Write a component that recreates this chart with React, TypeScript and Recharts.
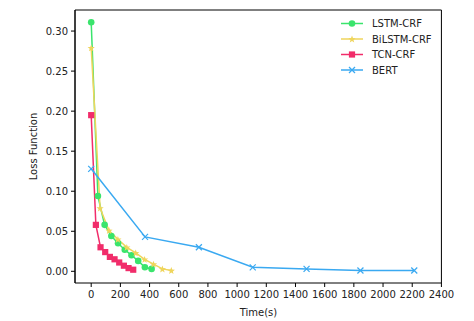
import React from "react"
import {
  LineChart,
  Line,
  XAxis,
  YAxis,
  ReferenceArea,
} from "recharts"

// training time (s) and loss per model
const lstmTime = [0, 46, 92, 138, 184, 230, 276, 322, 368, 414]
const lstmLoss = [0.311, 0.094, 0.058, 0.044, 0.035, 0.027, 0.02, 0.013, 0.005, 0.003]

const bilstmTime = [0, 61, 122, 183, 244, 305, 366, 427, 488, 549]
const bilstmLoss = [0.279, 0.079, 0.051, 0.04, 0.03, 0.023, 0.015, 0.009, 0.003, 0.001]

const tcnTime = [0, 32, 64, 96, 128, 160, 192, 224, 256, 288]
const tcnLoss = [0.195, 0.058, 0.03, 0.024, 0.018, 0.015, 0.011, 0.007, 0.004, 0.002]

const bertTime = [0, 369, 738, 1107, 1476, 1845, 2214]
const bertLoss = [0.128, 0.043, 0.03, 0.005, 0.003, 0.001, 0.001]

const xTicks = [0, 200, 400, 600, 800, 1000, 1200, 1400, 1600, 1800, 2000, 2200, 2400]
const yTicks = [0, 0.05, 0.1, 0.15, 0.2, 0.25, 0.3]

// axis box spans X_FRAME; the scale runs a bit further so the 2400 tick is kept
const X_FRAME: [number, number] = [-111, 2400]
const X_DOMAIN: [number, number] = [-111, 2500]
const Y_DOMAIN: [number, number] = [-0.0146, 0.3263]

const FONT = "DejaVu Sans, sans-serif"

type Shape = "circle" | "star" | "square" | "x"

const toPoints = (t: number[], l: number[]) => t.map((time, i) => ({ time, loss: l[i] }))

const series = [
  { name: "LSTM-CRF", color: "#3ae46c", shape: "circle" as Shape, data: toPoints(lstmTime, lstmLoss) },
  { name: "BiLSTM-CRF", color: "#efd55c", shape: "star" as Shape, data: toPoints(bilstmTime, bilstmLoss) },
  { name: "TCN-CRF", color: "#f12c6a", shape: "square" as Shape, data: toPoints(tcnTime, tcnLoss) },
  { name: "BERT", color: "#3aa9f1", shape: "x" as Shape, data: toPoints(bertTime, bertLoss) },
]

const starPath = (cx: number, cy: number, R: number, r: number) => {
  let d = ""
  for (let i = 0; i < 10; i++) {
    const rad = i % 2 === 0 ? R : r
    const a = -Math.PI / 2 + (i * Math.PI) / 5
    d += (i === 0 ? "M" : "L") + (cx + rad * Math.cos(a)).toFixed(2) + "," + (cy + rad * Math.sin(a)).toFixed(2)
  }
  return d + "Z"
}

const Marker = ({ cx, cy, shape, color }: { cx: number; cy: number; shape: Shape; color: string }) => {
  if (shape === "circle") return <circle cx={cx} cy={cy} r={3.3} fill={color} />
  if (shape === "square") return <rect x={cx - 3.1} y={cy - 3.1} width={6.2} height={6.2} fill={color} />
  if (shape === "star") return <path d={starPath(cx, cy + 0.4, 3.8, 1.6)} fill={color} />
  return (
    <g stroke={color} strokeWidth={1.2}>
      <line x1={cx - 3} y1={cy - 3} x2={cx + 3} y2={cy + 3} />
      <line x1={cx - 3} y1={cy + 3} x2={cx + 3} y2={cy - 3} />
    </g>
  )
}

const makeDot = (shape: Shape, color: string) => (props: any) => {
  const { cx, cy, index } = props
  if (cx == null || cy == null) return <g key={index} />
  return <Marker key={index} cx={cx} cy={cy} shape={shape} color={color} />
}

// legend drawn as an overlay so it takes no room from the plot
const LegendBox = () => (
  <svg width={120} height={70} style={{ position: "absolute", left: 335, top: 14, overflow: "visible" }}>
    {series.map((s, i) => {
      const y = 9.5 + i * 15.5
      return (
        <g key={s.name}>
          <line x1={6} x2={28} y1={y} y2={y} stroke={s.color} strokeWidth={1.5} />
          <Marker cx={17} cy={y} shape={s.shape} color={s.color} />
          <text x={37} y={y} dy="0.35em" fontSize={10} fontFamily={FONT} fill="#222">
            {s.name}
          </text>
        </g>
      )
    })}
  </svg>
)

export default function App() {
  return (
    <div style={{ position: "absolute", left: 0, top: 0, width: 474, height: 321, background: "#fff" }}>
      <LineChart width={474} height={321} margin={{ top: 10, right: 18, bottom: 0, left: 0 }}>
        <XAxis
          dataKey="time"
          type="number"
          domain={X_DOMAIN}
          ticks={xTicks}
          interval={0}
          allowDataOverflow
          axisLine={false}
          height={38}
          tickSize={4}
          tickMargin={4}
          tickLine={{ stroke: "#000" }}
          tick={{ fill: "#222", fontSize: 10, fontFamily: FONT }}
          label={{ value: "Time(s)", position: "insideBottom", offset: 5, dx: -7, fill: "#222", fontSize: 10, fontFamily: FONT }}
        />
        <YAxis
          type="number"
          domain={Y_DOMAIN}
          ticks={yTicks}
          interval={0}
          allowDataOverflow
          width={75}
          tickSize={4}
          tickMargin={3}
          stroke="#000"
          tickFormatter={(v: number) => v.toFixed(2)}
          tick={{ fill: "#222", fontSize: 10, fontFamily: FONT }}
          label={{ value: "Loss Function", angle: -90, position: "center", dx: -4, fill: "#222", fontSize: 10, fontFamily: FONT }}
        />
        <ReferenceArea
          x1={X_FRAME[0]}
          x2={X_FRAME[1]}
          y1={Y_DOMAIN[0]}
          y2={Y_DOMAIN[1]}
          fill="none"
          stroke="#000"
          strokeWidth={1}
          ifOverflow="visible"
        />
        {series.map((s) => (
          <Line
            key={s.name}
            data={s.data}
            dataKey="loss"
            name={s.name}
            type="linear"
            stroke={s.color}
            strokeWidth={1.5}
            dot={makeDot(s.shape, s.color)}
            activeDot={false}
            isAnimationActive={false}
          />
        ))}
      </LineChart>
      <LegendBox />
    </div>
  )
}
